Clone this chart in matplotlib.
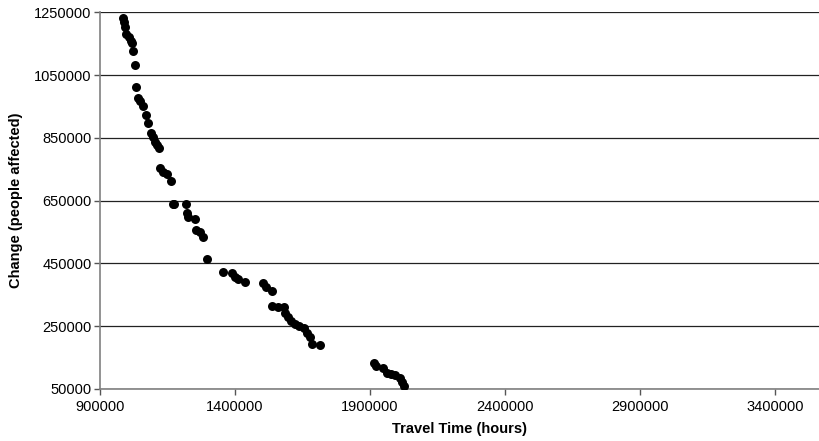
import matplotlib
matplotlib.use("Agg")
import matplotlib.pyplot as plt

plt.rcParams['font.family'] = ['Liberation Sans', 'DejaVu Sans']

travel_time = [986300, 988900, 992600, 996300, 1008500, 1013700, 1017400, 1023300,
               1029600, 1033300, 1041800, 1048100, 1058100, 1070400, 1078900, 1087800,
               1097400, 1103700, 1110000, 1119600, 1122200, 1134400, 1147000, 1163000,
               1169300, 1174100, 1217400, 1223400, 1227000, 1251900, 1254400, 1270400,
               1280400, 1295200, 1356700, 1387800, 1400000, 1412200, 1437000, 1504800,
               1513700, 1535900, 1535900, 1560400, 1581500, 1585200, 1597400, 1607400,
               1622200, 1638100, 1655600, 1667800, 1677800, 1686300, 1714800, 1914800,
               1922200, 1947000, 1964100, 1979000, 1992600, 2011100, 2017400, 2025900]
change = [1230900, 1220100, 1204100, 1180000, 1172300, 1159500, 1151300, 1127700,
          1082100, 1013000, 978000, 967500, 951500, 922900, 896400, 864600,
          853700, 837800, 827300, 818700, 753100, 742200, 733900, 712600,
          639300, 639300, 639300, 611600, 598900, 591600, 556500, 551100,
          533300, 464100, 423700, 418600, 405800, 399500, 391800, 386700,
          374000, 363100, 315400, 312200, 310300, 291100, 278400, 267600,
          257100, 250700, 244300, 227400, 214700, 193400, 190200, 133800,
          124200, 115900, 101900, 98000, 94600, 84100, 73300, 59600]

y_ticks = [50000, 250000, 450000, 650000, 850000, 1050000, 1250000]
x_ticks = [900000, 1400000, 1900000, 2400000, 2900000, 3400000]

fig = plt.figure(figsize=(8.19, 4.41), dpi=100)
ax = fig.add_axes([100/819, 1-389/441, 719/819, (389-12.3)/441])

ax.set_xlim(900000, 900000 + 719*3703.7)
ax.set_ylim(50000, 1250000)
ax.set_yticks(y_ticks)
ax.set_xticks(x_ticks)
ax.set_yticklabels([str(v) for v in y_ticks])
ax.set_xticklabels([str(v) for v in x_ticks])

for yv in y_ticks:
    ax.axhline(yv, color='#222222', lw=0.9, zorder=1)

ax.scatter(travel_time, change, s=42, color='black', zorder=3, linewidths=0)

for s in ['top', 'right']:
    ax.spines[s].set_visible(False)
ax.spines['left'].set_color('#808080')
ax.spines['bottom'].set_color('#808080')
ax.spines['left'].set_linewidth(1.2)
ax.spines['bottom'].set_linewidth(1.2)
ax.tick_params(axis='both', direction='out', length=4, width=1, color='#555555',
               labelsize=10.5)
ax.tick_params(axis='x', pad=4)
ax.tick_params(axis='y', pad=2)

ax.set_xlabel('Travel Time (hours)', fontsize=10.5, fontweight='bold', labelpad=6)
ax.set_ylabel('Change (people affected)', fontsize=10.5, fontweight='bold', labelpad=8)

fig.savefig('out.png', dpi=100)
